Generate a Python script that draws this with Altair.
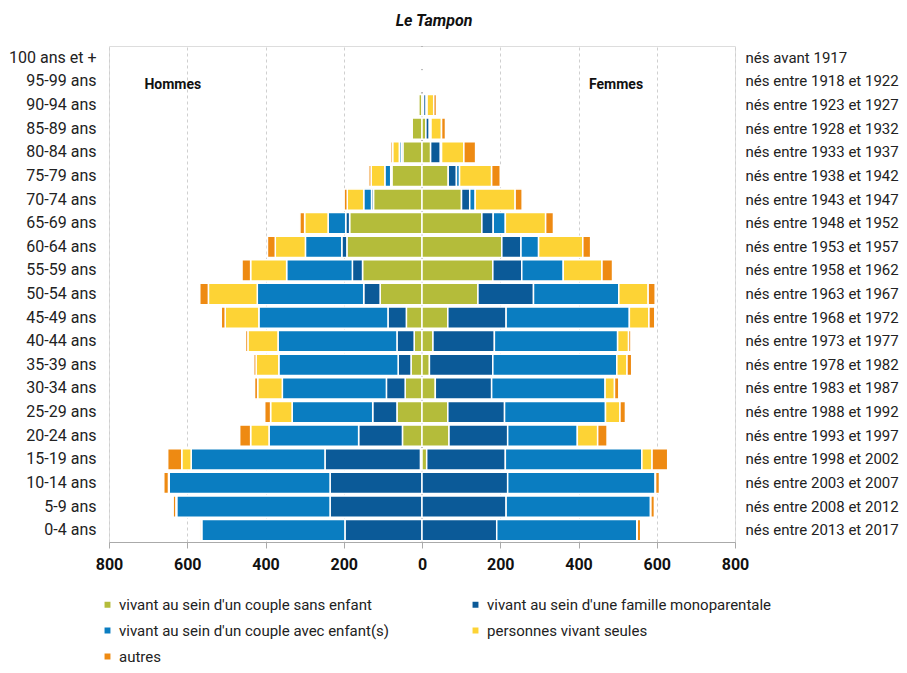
import altair as alt
import pandas as pd

ages = ["100 ans et +", "95-99 ans", "90-94 ans", "85-89 ans", "80-84 ans", "75-79 ans",
        "70-74 ans", "65-69 ans", "60-64 ans", "55-59 ans", "50-54 ans", "45-49 ans",
        "40-44 ans", "35-39 ans", "30-34 ans", "25-29 ans", "20-24 ans", "15-19 ans",
        "10-14 ans", "5-9 ans", "0-4 ans"]
naissances = ["nés avant 1917", "nés entre 1918 et 1922", "nés entre 1923 et 1927",
              "nés entre 1928 et 1932", "nés entre 1933 et 1937", "nés entre 1938 et 1942",
              "nés entre 1943 et 1947", "nés entre 1948 et 1952", "nés entre 1953 et 1957",
              "nés entre 1958 et 1962", "nés entre 1963 et 1967", "nés entre 1968 et 1972",
              "nés entre 1973 et 1977", "nés entre 1978 et 1982", "nés entre 1983 et 1987",
              "nés entre 1988 et 1992", "nés entre 1993 et 1997", "nés entre 1998 et 2002",
              "nés entre 2003 et 2007", "nés entre 2008 et 2012", "nés entre 2013 et 2017"]

categories = ["vivant au sein d'un couple sans enfant",
              "vivant au sein d'une famille monoparentale",
              "vivant au sein d'un couple avec enfant(s)",
              "personnes vivant seules",
              "autres"]
colors = ["#b4bc3a", "#0b5a98", "#0a7dc1", "#fdd335", "#ee8a12"]

# Hommes (top row = 100 ans et +, bottom row = 0-4 ans)
h_sans   = [0, 0, 8, 25, 49, 77, 124, 185, 192, 152, 107, 40, 20, 28, 43, 64, 50, 4, 0, 0, 0]
h_mono   = [0, 0, 0, 0, 4, 3, 5, 10, 13, 26, 42, 47, 44, 33, 48, 62, 112, 244, 235, 235, 197]
h_avec   = [0, 0, 0, 0, 5, 15, 20, 45, 93, 168, 272, 330, 304, 305, 266, 206, 229, 342, 411, 392, 366]
h_seules = [0, 0, 0, 0, 17, 35, 42, 60, 77, 92, 125, 86, 77, 58, 63, 55, 47, 24, 2, 2, 1]
h_autres = [0, 0, 0, 0, 5, 6, 8, 12, 20, 22, 22, 10, 6, 6, 8, 15, 28, 36, 12, 7, 4]

# Femmes
f_sans   = [0, 0, 4, 10, 22, 67, 101, 153, 204, 181, 143, 66, 28, 19, 34, 66, 69, 12, 0, 0, 0]
f_mono   = [0, 0, 7, 9, 25, 21, 21, 29, 49, 74, 142, 149, 157, 162, 144, 145, 150, 201, 219, 215, 191]
f_avec   = [0, 0, 2, 4, 3, 8, 14, 31, 45, 106, 218, 315, 315, 317, 290, 258, 178, 349, 377, 369, 358]
f_seules = [0, 0, 17, 27, 57, 82, 102, 103, 113, 99, 75, 50, 28, 26, 24, 37, 52, 26, 1, 1, 1]
f_autres = [0, 0, 7, 10, 30, 22, 18, 20, 20, 27, 18, 15, 6, 12, 11, 14, 24, 40, 10, 9, 9]

hommes = [h_sans, h_mono, h_avec, h_seules, h_autres]
femmes = [f_sans, f_mono, f_avec, f_seules, f_autres]

rows = []
for i, age in enumerate(ages):
    for j, cat in enumerate(categories):
        rows.append({"age": age, "sexe": "Hommes", "categorie": cat, "ordre": j,
                     "valeur": -hommes[j][i]})
        rows.append({"age": age, "sexe": "Femmes", "categorie": cat, "ordre": j,
                     "valeur": femmes[j][i]})
df = pd.DataFrame(rows)

labels_df = pd.DataFrame({"valeur": [-637, 496], "age": ["95-99 ans", "95-99 ans"],
                          "texte": ["Hommes", "Femmes"]})
zero_df = pd.DataFrame({"valeur": [0]})

FONT = "Roboto"
W, H = 626, 496
yscale = alt.Scale(domain=ages, paddingInner=0.1, paddingOuter=0.05)
xscale = alt.Scale(domain=[-800, 800], nice=False)

ages_js = "[" + ",".join("'" + a + "'" for a in ages) + "]"
nais_js = "[" + ",".join("'" + n + "'" for n in naissances) + "]"

bars = alt.Chart(df).mark_bar(stroke="white", strokeWidth=1.5).encode(
    x=alt.X("valeur:Q", stack="zero", scale=xscale,
            axis=alt.Axis(values=[-800, -600, -400, -200, 0, 200, 400, 600, 800],
                          labelExpr="abs(datum.value)", title=None, labelFlush=False,
                          grid=True, gridDash=[3, 3], gridColor="#cfcfcf",
                          domainColor="#aaaaaa", tickColor="#aaaaaa", tickSize=6,
                          labelFontWeight="bold", labelFontSize=16, labelPadding=8,
                          labelColor="#111111", labelFont=FONT)),
    y=alt.Y("age:N", sort=ages, scale=yscale,
            axis=alt.Axis(title=None, ticks=False, domain=False, labelFontSize=16,
                          labelPadding=13, labelColor="#222222", labelFont=FONT)),
    color=alt.Color("categorie:N", sort=categories,
                    scale=alt.Scale(domain=categories, range=colors),
                    legend=alt.Legend(title=None, orient="none", legendX=-9, legendY=551,
                                      direction="horizontal",
                                      columns=2, columnPadding=78, rowPadding=10,
                                      symbolType="square", symbolSize=55,
                                      labelFontSize=15, labelFont=FONT,
                                      labelColor="#222222", labelLimit=400)),
    order=alt.Order("ordre:Q"),
)

zero_rule = alt.Chart(zero_df).mark_rule(color="#a8a8a8", strokeWidth=1.5).encode(
    x=alt.X("valeur:Q", scale=xscale),
    y=alt.value(0),
    y2=alt.value(H),
)

texts = alt.Chart(labels_df).mark_text(fontWeight="bold", fontSize=14, font=FONT,
                                       color="#111111", dy=4).encode(
    x=alt.X("valeur:Q", scale=xscale),
    y=alt.Y("age:N", sort=ages, scale=yscale,
            axis=alt.Axis(orient="right", title=None, ticks=False, domain=False,
                          labelFontSize=15, labelPadding=10, labelAlign="left",
                          labelColor="#222222", labelFont=FONT, labelLimit=300,
                          labelExpr=nais_js + "[indexof(" + ages_js + ", datum.value)]")),
    text="texte:N",
)

chart = alt.layer(zero_rule, bars, texts).resolve_axis(y="independent").properties(
    width=W, height=H,
    padding={"top": 5, "left": 0, "right": 0, "bottom": 0},
    title=alt.TitleParams("Le Tampon", fontStyle="italic", fontWeight="bold", fontSize=16,
                          font=FONT, anchor="middle", frame="group", dx=12, offset=16,
                          color="#111111"),
).configure_view(stroke=None).configure(font=FONT)

chart.save("out.html", embed_options={"renderer": "svg", "actions": False})
